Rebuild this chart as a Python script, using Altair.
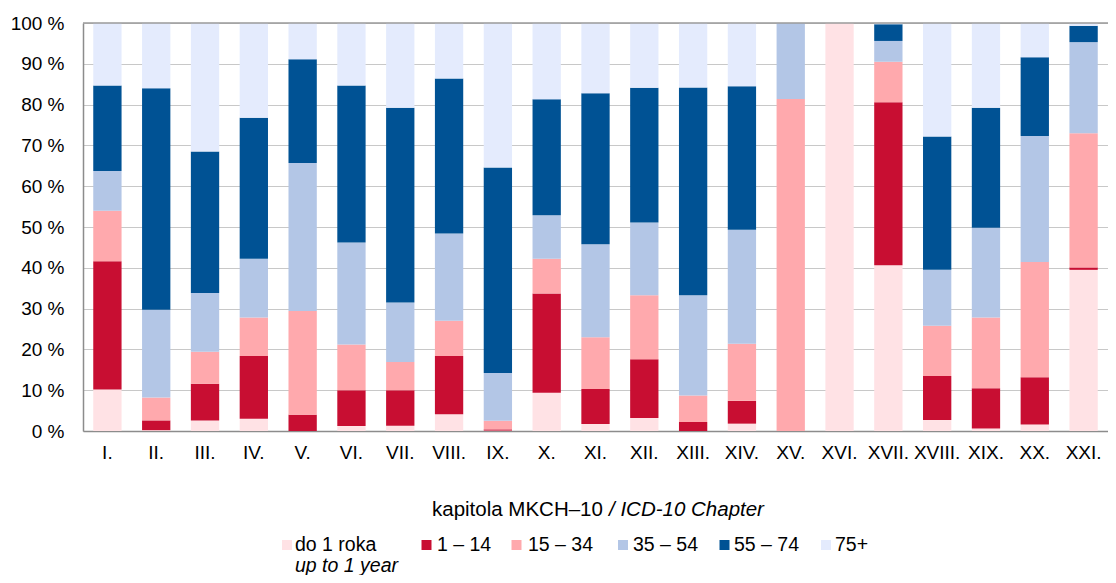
import altair as alt
import pandas as pd

chapters = ["I.", "II.", "III.", "IV.", "V.", "VI.", "VII.", "VIII.", "IX.", "X.", "XI.",
            "XII.", "XIII.", "XIV.", "XV.", "XVI.", "XVII.", "XVIII.", "XIX.", "XX.", "XXI."]
groups = ["do 1 roka", "1 – 14", "15 – 34", "35 – 54", "55 – 74", "75+"]
colors = ["#FFE2E5", "#C80E32", "#FFA9AD", "#B3C6E6", "#005294", "#E4EBFD"]

do1 = [10.2, 0.2, 2.6, 3.0, 0, 1.2, 1.3, 4.1, 0.1, 9.4, 1.7, 3.2, 0, 1.8, 0, 100, 40.6, 2.7, 0.6, 1.6, 39.5]
a1_14 = [31.4, 2.4, 9.0, 15.4, 4.0, 8.8, 8.7, 14.3, 0.3, 24.3, 8.6, 14.4, 2.2, 5.6, 0, 0, 40.0, 10.8, 9.9, 11.6, 0.6]
a15_34 = [12.4, 5.6, 7.8, 9.4, 25.4, 11.2, 6.9, 8.6, 2.1, 8.5, 12.7, 15.7, 6.5, 14.0, 81.4, 0, 9.9, 12.3, 17.3, 28.2, 32.9]
a35_54 = [9.7, 21.5, 14.4, 14.4, 36.3, 25.0, 14.6, 21.4, 11.7, 10.7, 22.8, 17.8, 24.6, 27.9, 18.6, 0, 5.1, 13.7, 22.0, 30.9, 22.3]
a55_74 = [21.0, 54.3, 34.7, 34.6, 25.4, 38.5, 47.7, 38.0, 50.4, 28.4, 37.0, 33.0, 50.9, 35.2, 0, 0, 4.1, 32.7, 29.4, 19.3, 4.0]
a75 = [15.3, 16.0, 31.5, 23.2, 8.9, 15.3, 20.8, 13.6, 35.4, 18.7, 17.2, 15.9, 15.8, 15.5, 0, 0, 0.3, 27.8, 20.8, 8.4, 0.7]

series = [do1, a1_14, a15_34, a35_54, a55_74, a75]
rows = []
for gi, (g, vals) in enumerate(zip(groups, series)):
    for c, v in zip(chapters, vals):
        rows.append({"chapter": c, "group": g, "idx": gi, "value": v})
df = pd.DataFrame(rows)

FONT = "Liberation Sans"

bars = alt.Chart(df).mark_bar().encode(
    x=alt.X("chapter:N", sort=chapters,
            scale=alt.Scale(paddingInner=0.42, paddingOuter=0.21),
            axis=alt.Axis(labelAngle=0, title=None, ticks=False, labelFontSize=19,
                          labelPadding=12, domainColor="#8C8C8C", labelColor="#000",
                          labelFont=FONT, domainWidth=1.5)),
    y=alt.Y("value:Q", stack="zero", scale=alt.Scale(domain=[0, 100], nice=False),
            axis=alt.Axis(values=list(range(0, 101, 10)), labelExpr="datum.value + ' %'",
                          title=None, ticks=False, domainColor="#8C8C8C", gridColor="#C8C8C8",
                          labelPadding=19, labelFontSize=19, labelColor="#000",
                          labelFont=FONT, domainWidth=1.5)),
    color=alt.Color("group:N", sort=groups,
                    scale=alt.Scale(domain=groups, range=colors), legend=None),
    order=alt.Order("idx:Q", sort="ascending"),
)

one = alt.InlineData(values=[{"a": 1}])

top_rule = alt.Chart(one).mark_rule(color="#9A9A9A", strokeWidth=1.5).encode(y=alt.value(0))

layers = [bars, top_rule]

# axis title (mixed regular / italic)
layers.append(alt.Chart(one).mark_text(text="kapitola MKCH–10", align="left", baseline="middle",
                                       fontSize=20.5, font=FONT, color="#000")
              .encode(x=alt.value(349), y=alt.value(487)))
layers.append(alt.Chart(one).mark_text(text="/ ICD-10 Chapter", align="left", baseline="middle",
                                       fontSize=20.5, font=FONT, fontStyle="italic", color="#000")
              .encode(x=alt.value(526), y=alt.value(487)))

# custom legend
sq_x = [204, 343.5, 433.5, 540, 641.5, 743]
tx_x = [212, 354, 445, 550, 651, 752]
for g, col, sx, tx in zip(groups, colors, sq_x, tx_x):
    layers.append(alt.Chart(one).mark_square(size=100, color=col, opacity=1)
                  .encode(x=alt.value(sx), y=alt.value(522)))
    layers.append(alt.Chart(one).mark_text(text=g, align="left", baseline="middle",
                                           fontSize=19.5, font=FONT, color="#000")
                  .encode(x=alt.value(tx), y=alt.value(522)))
layers.append(alt.Chart(one).mark_text(text="up to 1 year", align="left", baseline="alphabetic",
                                       fontSize=19.5, font=FONT, fontStyle="italic", color="#000")
              .encode(x=alt.value(tx_x[0]), y=alt.value(549)))

chart = alt.layer(*layers).properties(
    width=1025, height=408,
    padding={"left": 75, "top": 15, "right": 0, "bottom": 144},
    autosize="none",
).configure_view(stroke=None)

chart.save("out.html", embed_options={"renderer": "svg", "actions": False})
